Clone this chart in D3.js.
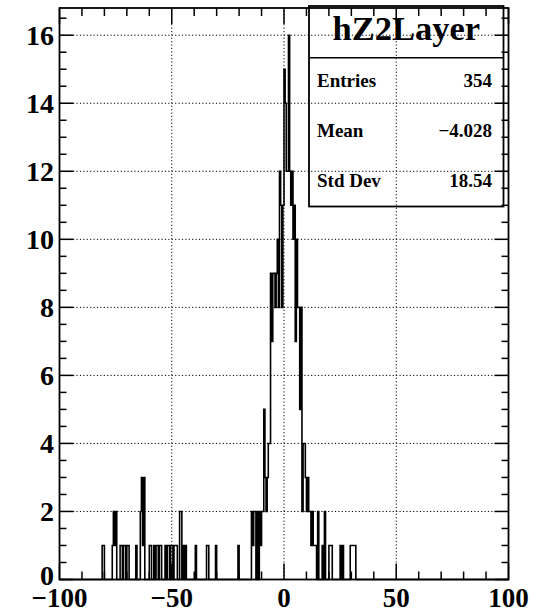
<!DOCTYPE html>
<html><head><meta charset="utf-8">
<script src="https://cdn.jsdelivr.net/npm/d3@7"></script>
<style>
html,body{margin:0;padding:0;background:#fff;}
text{font-family:"Liberation Serif","Times New Roman",serif;font-weight:bold;fill:#000;}
</style></head>
<body>
<svg id="c" width="544" height="613"></svg>
<script>
// Histogram hZ2Layer: 400 bins of width 0.5 on [-100,100]; non-empty bins listed by lower edge
const binLow = [
 -81,-80.5,-76.5,-76,-75.5,-75,-73,-72.5,-71.5,-71,-70,-69.5,-66,-64,-63.5,-63,-62.5,
 -60,-59.5,-58,-57,-56.5,-55.5,-55,-53,-52,-51.5,-50.5,-50,-49,-48.5,-48,
 -46.5,-46,-45,-44,-39.5,-34.5,-34,-30.5,-20.5,
 -14.5,-14,-13.5,-13,-12,-11,-10.5,-10,-9.5,-9,-8.5,-8,-7.5,-7,-6.5,-6,-5.5,-5,-4.5,-4,-3.5,
 -3,-2.5,-2,-1.5,-1,-0.5,0,0.5,1,1.5,2,2.5,3,3.5,4,4.5,5,5.5,6,6.5,7,7.5,8,8.5,9,9.5,
 10,10.5,11,11.5,12,12.5,13,13.5,14,15,17,18,20,20.5,21,25,26,29.5,30,30.5,31,31.5
];
const binCount = [
 1,1,1,2,1,2,1,1,1,1,1,1,1,2,3,1,3,
 1,1,1,1,1,1,1,1,1,1,1,1,1,1,1,
 2,2,1,1,1,1,1,1,1,
 2,1,2,2,2,2,1,2,2,5,3,2,3,4,4,9,7,9,9,8,9,
 10,8,12,11,8,11,15,14,12,12,16,12,11,12,10,11,7,10,8,8,5,8,2,4,4,3,
 2,3,2,2,1,2,1,1,1,2,1,2,1,1,1,1,1,1,1,1,1,1
];
const xTickLabels = ["\u2212100","\u221250","0","50","100"];
const xTickValues = [-100,-50,0,50,100];
const yTickValues = [0,2,4,6,8,10,12,14,16];
const statsTitle = "hZ2Layer";
const statsNames = ["Entries","Mean","Std Dev"];
const statsValues = ["354","\u22124.028","18.54"];

const L=59.5,R=508.5,T=8,B=579.5;
const xMin=-100,xMax=100,binW=0.5,yMax=16.8;
const x=d3.scaleLinear().domain([xMin,xMax]).range([L,R]);
const y=d3.scaleLinear().domain([0,yMax]).range([B,T]);
const svg=d3.select("#c");

// full bin contents
const nb=Math.round((xMax-xMin)/binW);
const counts=new Array(nb).fill(0);
binLow.forEach((v,i)=>{const k=Math.round((v-xMin)/binW);if(k>=0&&k<nb)counts[k]+=binCount[i];});

// grid
const g=svg.append("g").attr("stroke","#000").attr("stroke-width",1).attr("stroke-dasharray","1.2,2.2");
[-50,0,50].forEach(v=>g.append("line").attr("x1",x(v)).attr("x2",x(v)).attr("y1",B).attr("y2",T));
yTickValues.filter(v=>v>0).forEach(v=>g.append("line").attr("x1",L).attr("x2",R).attr("y1",y(v)).attr("y2",y(v)));

// histogram outline
const pts=[[x(xMin),y(0)]];
counts.forEach((c,k)=>{const a=xMin+k*binW;pts.push([x(a),y(c)]);pts.push([x(a+binW),y(c)]);});
pts.push([x(xMax),y(0)]);
svg.append("path").attr("d",d3.line()(pts)).attr("fill","none").attr("stroke","#000").attr("stroke-width",1.6);

// frame
svg.append("rect").attr("x",L).attr("y",T).attr("width",R-L).attr("height",B-T)
 .attr("fill","none").attr("stroke","#000").attr("stroke-width",1.8);

// ticks
const tk=svg.append("g").attr("stroke","#000").attr("stroke-width",1.5);
for(let v=-100;v<=100;v+=10){const maj=(v%50===0);const len=maj?16:8;
 tk.append("line").attr("x1",x(v)).attr("x2",x(v)).attr("y1",B).attr("y2",B-len);
 tk.append("line").attr("x1",x(v)).attr("x2",x(v)).attr("y1",T).attr("y2",T+len);}
for(let v=0;v<=yMax+1e-9;v+=0.5){const maj=(Math.abs(v/2-Math.round(v/2))<1e-9);const len=maj?14:7;
 tk.append("line").attr("x1",L).attr("x2",L+len).attr("y1",y(v)).attr("y2",y(v));
 tk.append("line").attr("x1",R).attr("x2",R-len).attr("y1",y(v)).attr("y2",y(v));}

// tick labels
svg.append("g").selectAll("text").data(xTickValues).join("text")
 .attr("x",d=>x(d)).attr("y",607).attr("text-anchor","middle").attr("font-size",27)
 .text((d,i)=>xTickLabels[i]);
svg.append("g").selectAll("text").data(yTickValues).join("text")
 .attr("x",54).attr("y",d=>y(d)).attr("dy",d=>d===0?"0.2em":"0.34em").attr("text-anchor","end").attr("font-size",28)
 .text(d=>d);

// stats box
const sb={x:309,y:6,w:194.5,h:200.5};
svg.append("rect").attr("x",sb.x).attr("y",sb.y).attr("width",sb.w).attr("height",sb.h)
 .attr("fill","none").attr("stroke","#000").attr("stroke-width",1.8);
svg.append("line").attr("x1",sb.x).attr("x2",sb.x+sb.w).attr("y1",57.7).attr("y2",57.7)
 .attr("stroke","#000").attr("stroke-width",1.5);
svg.append("text").attr("x",sb.x+sb.w/2).attr("y",39.5).attr("text-anchor","middle")
 .attr("font-size",34.5).text(statsTitle);
const rowY=[87.3,136.7,186.7];
statsNames.forEach((n,i)=>{
 svg.append("text").attr("x",317).attr("y",rowY[i]).attr("font-size",19).text(n);
 svg.append("text").attr("x",492).attr("y",rowY[i]).attr("text-anchor","end").attr("font-size",19).text(statsValues[i]);
});
</script>
</body></html>
